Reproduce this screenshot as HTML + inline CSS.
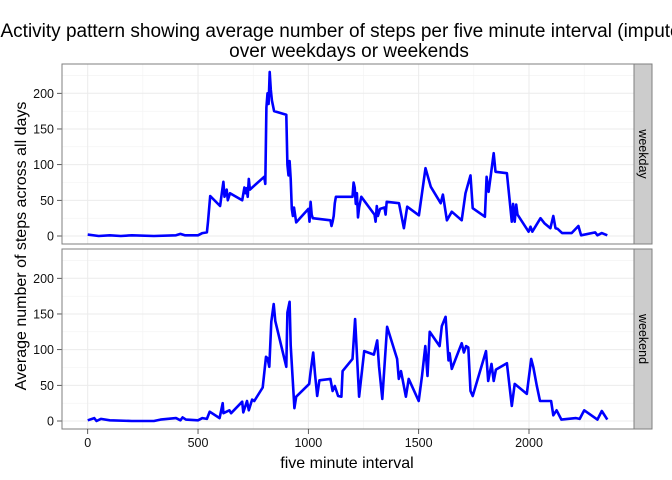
<!DOCTYPE html>
<html><head><meta charset="utf-8"><style>
html,body{margin:0;padding:0;background:#fff;}
svg{display:block;font-family:"Liberation Sans",Arial,sans-serif;}
</style></head><body>
<svg id="chart" width="672" height="480" viewBox="0 0 672 480" xmlns="http://www.w3.org/2000/svg">
<text x="349" y="37" font-size="19" text-anchor="middle" fill="#000">Activity pattern showing average number of steps per five minute interval (imputed)</text>
<text x="349" y="57" font-size="19" text-anchor="middle" fill="#000">over weekdays or weekends</text>
<text transform="translate(26,246) rotate(-90)" font-size="16" text-anchor="middle" fill="#000">Average number of steps across all days</text>
<text x="347" y="468" font-size="16" text-anchor="middle" fill="#000">five minute interval</text>
<g id="panels"></g>
</svg>
<script>
const xTicks = [0, 500, 1000, 1500, 2000];
const yTicks = [0, 50, 100, 150, 200];
const facetLabels = ['weekday', 'weekend'];
const weekdayIntervals = [0,50,100,150,200,300,400,420,440,500,520,540,545,555,600,610,615,620,630,635,645,700,710,715,720,725,730,735,800,805,810,815,820,825,830,835,845,900,905,910,915,920,925,930,935,945,1000,1005,1010,1015,1020,1100,1105,1110,1115,1120,1125,1200,1205,1210,1215,1220,1225,1230,1240,1300,1305,1310,1315,1325,1345,1350,1355,1411,1433,1448,1501,1531,1555,1600,1610,1628,1650,1695,1712,1735,1745,1800,1808,1817,1840,1848,1900,1922,1928,1935,1942,1948,1998,2007,2015,2052,2070,2097,2110,2120,2130,2150,2193,2224,2236,2300,2310,2330,2355];
const weekdayValues = [2,0,1,0,1,0,1,3,1,1,4,5,20,56,42,65,76,55,65,50,60,50,68,60,67,55,80,65,83,73,180,200,185,230,205,190,175,170,100,85,105,80,38,28,40,19,38,20,48,30,25,22,14,20,28,46,55,55,75,68,45,60,26,40,55,30,20,42,28,38,40,30,48,46,11,41,29,95,69,46,58,22,34,22,60,85,39,27,83,62,116,90,88,20,45,20,44,30,6,13,6,25,18,11,28,11,10,4,4,14,1,5,1,4,1];
const weekendIntervals = [0,30,40,60,100,200,300,330,400,420,430,445,500,520,540,553,598,612,615,642,650,700,705,722,730,745,755,793,808,815,823,832,843,850,900,905,915,920,937,945,1004,1010,1022,1030,1040,1050,1100,1110,1120,1135,1150,1155,1200,1212,1230,1253,1297,1312,1320,1335,1357,1402,1410,1420,1442,1455,1500,1515,1530,1540,1550,1595,1605,1622,1635,1640,1650,1695,1705,1715,1725,1735,1745,1805,1815,1830,1840,1850,1900,1922,1935,1990,2010,2020,2035,2050,2100,2110,2125,2147,2213,2230,2250,2310,2330,2355];
const weekendValues = [1,4,0,3,1,0,0,2,4,1,5,2,1,4,3,13,4,25,11,15,11,27,12,28,15,30,28,47,90,88,76,139,164,140,76,152,167,106,18,34,52,69,96,66,35,57,59,42,49,35,34,70,87,143,34,98,93,113,77,31,132,87,59,70,34,59,28,63,105,63,125,105,133,146,85,95,73,109,96,105,103,42,35,98,56,80,56,72,81,21,52,38,87,75,50,28,28,8,15,2,4,3,15,2,14,2];

const svg = document.getElementById('chart');
const g = document.getElementById('panels');
const NS = 'http://www.w3.org/2000/svg';
const L = 62, R = 634, SW = 18;
const panelTops = [64, 249], PH = 180;
function xs(v){ return 87.7 + (v - 0) * (529 - 87.7) / 2000; }
function ys(v, top){ return top + 172 - v * 0.7135; }
function mk(tag, attrs){ const e = document.createElementNS(NS, tag); for (const k in attrs) e.setAttribute(k, attrs[k]); return e; }
const series = [[weekdayIntervals, weekdayValues], [weekendIntervals, weekendValues]];
panelTops.forEach((top, pi) => {
  const bg = mk('rect', {x:L, y:top, width:R-L, height:PH, fill:'#fff'});
  
  
  g.appendChild(bg);
  for (let i = 0; i < xTicks.length; i++) {
    const mv = xTicks[i] + 250;
    if (xs(mv) < R) { const ml = mk('line', {x1:xs(mv), x2:xs(mv), y1:top, y2:top+PH, stroke:'#f2f2f2', 'stroke-width':0.6});   g.appendChild(ml); }
  }
  const mvx = xs(xTicks[0] - 250);
  if (mvx > L) { const ml = mk('line', {x1:mvx, x2:mvx, y1:top, y2:top+PH, stroke:'#f2f2f2', 'stroke-width':0.6});   g.appendChild(ml); }
  for (let i = 0; i < yTicks.length; i++) {
    const mv = yTicks[i] + 25;
    if (ys(mv, top) > top) { const ml = mk('line', {x1:L, x2:R, y1:ys(mv,top), y2:ys(mv,top), stroke:'#f2f2f2', 'stroke-width':0.6});   g.appendChild(ml); }
  }
  xTicks.forEach(t => {
    const gl = mk('line', {x1:xs(t), x2:xs(t), y1:top, y2:top+PH, stroke:'#ebebeb', 'stroke-width':1});
    
    
    g.appendChild(gl);
  });
  yTicks.forEach(t => {
    const yy = ys(t, top);
    const gl = mk('line', {x1:L, x2:R, y1:yy, y2:yy, stroke:'#ebebeb', 'stroke-width':1});
    
    
    g.appendChild(gl);
    const tk = mk('line', {x1:57, x2:L, y1:yy, y2:yy, stroke:'#333', 'stroke-width':0.8});
    
    
    g.appendChild(tk);
    const lb = mk('text', {x:54, y:yy+4.5, 'font-size':12.5, 'text-anchor':'end', fill:'#111'});
    
    
    lb.textContent = t;
    g.appendChild(lb);
  });
  const [xi, yv] = series[pi];
  const pts = xi.map((v, i) => xs(v).toFixed(1) + ',' + ys(yv[i], top).toFixed(1)).join(' ');
  const line = mk('polyline', {points:pts, fill:'none', stroke:'#0000ff', 'stroke-width':2.6, 'stroke-linejoin':'round'});
  
  
  g.appendChild(line);
  const border = mk('rect', {x:L, y:top, width:R-L, height:PH, fill:'none', stroke:'#7f7f7f', 'stroke-width':1});
  
  
  g.appendChild(border);
  const strip = mk('rect', {x:R, y:top, width:SW, height:PH, fill:'#cccccc', stroke:'#7f7f7f', 'stroke-width':1});
  
  
  g.appendChild(strip);
  const st = mk('text', {transform:'translate(' + (R + 5) + ',' + (top + PH/2) + ') rotate(90)', 'font-size':12.5, 'text-anchor':'middle', fill:'#000'});
  
  
  st.textContent = facetLabels[pi];
  g.appendChild(st);
});
const bottom = panelTops[1] + PH;
xTicks.forEach(t => {
  const tk = mk('line', {x1:xs(t), x2:xs(t), y1:bottom, y2:bottom+5, stroke:'#333', 'stroke-width':0.8});
  
  
  g.appendChild(tk);
  const lb = mk('text', {x:xs(t), y:bottom+18, 'font-size':12.5, 'text-anchor':'middle', fill:'#111'});
  
  
  lb.textContent = t;
  g.appendChild(lb);
});
</script>
</body></html>
